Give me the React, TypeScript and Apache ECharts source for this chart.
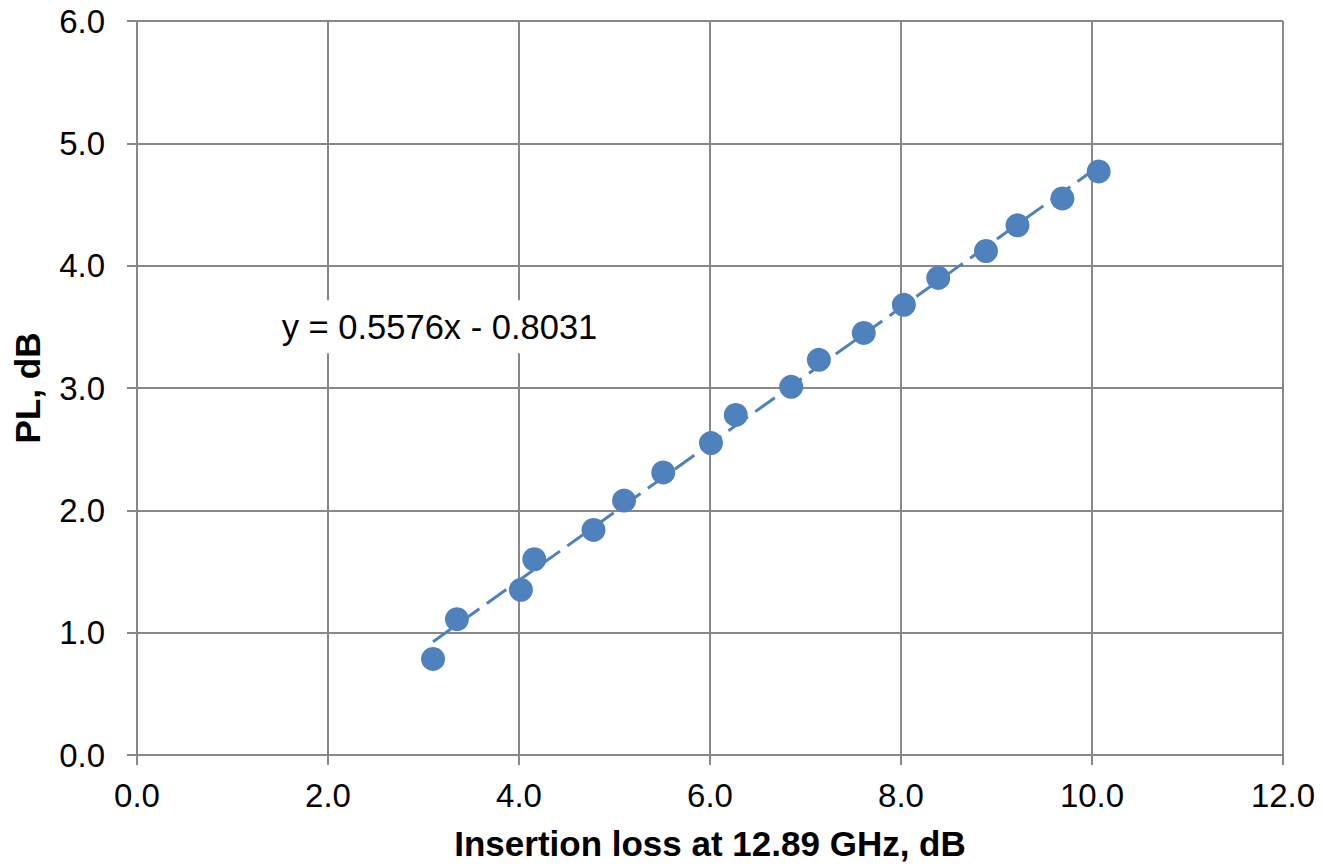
import React, { useEffect, useRef } from "react";
import * as echarts from "echarts";

const insertionLoss = [3.10, 3.35, 4.02, 4.16, 4.78, 5.10, 5.51, 6.01, 6.27, 6.85, 7.14, 7.61, 8.03, 8.39, 8.89, 9.22, 9.69, 10.07];
const pl = [0.785, 1.11, 1.35, 1.60, 1.84, 2.08, 2.31, 2.55, 2.78, 3.01, 3.23, 3.45, 3.68, 3.90, 4.12, 4.33, 4.55, 4.77];
const slope = 0.5576;
const intercept = -0.8031;
const equationAnchor = [1.39, 3.50];
const xTitle = "Insertion loss at 12.89 GHz, dB";
const yTitle = "PL, dB";

const FONT = "'Liberation Sans', Arial, Helvetica, sans-serif";
const BLUE = "#4F81BD";
const GRID = "#888888";

export default function App() {
  const ref = useRef<HTMLDivElement>(null);
  useEffect(() => {
    if (!ref.current) return;
    const chart = echarts.init(ref.current, undefined, { renderer: "svg" });
    const points = insertionLoss.map((x, i) => [x, pl[i]]);
    const xMin = Math.min(...insertionLoss);
    const xMax = Math.max(...insertionLoss);
    const trend = [
      [xMin, slope * xMin + intercept],
      [xMax, slope * xMax + intercept],
    ];
    const eqText = `y = ${slope}x ${intercept < 0 ? "-" : "+"} ${Math.abs(intercept)}`;
    chart.setOption({
      animation: false,
      backgroundColor: "#ffffff",
      grid: { left: 137, top: 21, right: 40, bottom: 112, containLabel: false },
      xAxis: {
        type: "value",
        min: 0,
        max: 12,
        interval: 2,
        name: xTitle,
        nameLocation: "middle",
        nameGap: 71,
        nameTextStyle: { fontFamily: FONT, fontSize: 35, fontWeight: "bold", color: "#000" },
        axisLine: { show: true, lineStyle: { color: GRID, width: 2 } },
        axisTick: { show: true, length: 10, lineStyle: { color: GRID, width: 2 } },
        axisLabel: {
          fontFamily: FONT,
          fontSize: 33,
          color: "#000",
          margin: 24,
          formatter: (v: number) => v.toFixed(1),
        },
        splitLine: { show: true, lineStyle: { color: GRID, width: 2 } },
      },
      yAxis: {
        type: "value",
        min: 0,
        max: 6,
        interval: 1,
        name: yTitle,
        nameLocation: "middle",
        nameGap: 92,
        nameRotate: 90,
        nameTextStyle: { fontFamily: FONT, fontSize: 35, fontWeight: "bold", color: "#000" },
        axisLine: { show: true, lineStyle: { color: GRID, width: 2 } },
        axisTick: { show: true, length: 10, lineStyle: { color: GRID, width: 2 } },
        axisLabel: {
          fontFamily: FONT,
          fontSize: 33,
          color: "#000",
          margin: 32,
          formatter: (v: number) => v.toFixed(1),
        },
        splitLine: { show: true, lineStyle: { color: GRID, width: 2 } },
      },
      series: [
        {
          type: "line",
          data: trend,
          showSymbol: false,
          symbol: "none",
          lineStyle: { color: BLUE, width: 3, type: [24, 9] },
          z: 2,
          silent: true,
        },
        {
          type: "scatter",
          data: points,
          symbol: "circle",
          symbolSize: 24,
          itemStyle: { color: BLUE, opacity: 1 },
          z: 3,
        },
        {
          type: "scatter",
          data: [equationAnchor],
          symbolSize: 0,
          itemStyle: { opacity: 1 },
          z: 4,
          silent: true,
          label: {
            show: true,
            position: "right",
            distance: 0,
            formatter: eqText,
            fontFamily: FONT,
            fontSize: 34.5,
            color: "#000",
            opacity: 1,
            backgroundColor: "#ffffff",
            padding: [9, 12, 9, 12],
          },
        },
      ],
    });
    return () => chart.dispose();
  }, []);
  return (
    <div
      ref={ref}
      style={{ position: "fixed", left: 0, top: 0, width: 1323, height: 867 }}
    />
  );
}
